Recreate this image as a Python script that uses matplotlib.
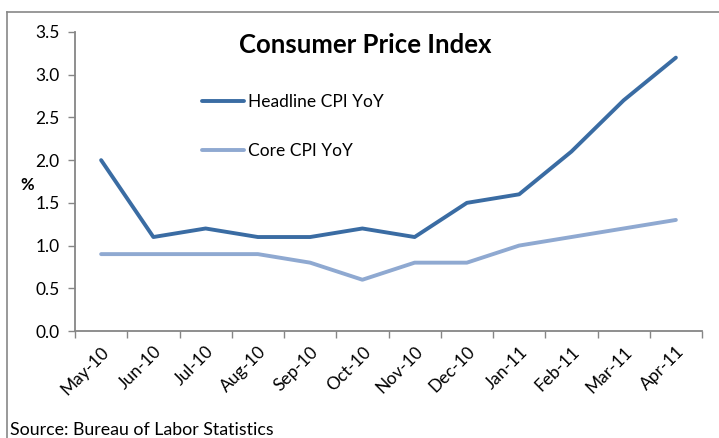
import matplotlib
matplotlib.use("Agg")
import matplotlib.pyplot as plt
from matplotlib.lines import Line2D
import numpy as np

months = ["May-10", "Jun-10", "Jul-10", "Aug-10", "Sep-10", "Oct-10",
          "Nov-10", "Dec-10", "Jan-11", "Feb-11", "Mar-11", "Apr-11"]
headline = [2.0, 1.1, 1.2, 1.1, 1.1, 1.2, 1.1, 1.5, 1.6, 2.1, 2.7, 3.2]
core = [0.9, 0.9, 0.9, 0.9, 0.8, 0.6, 0.8, 0.8, 1.0, 1.1, 1.2, 1.3]
yticks = [0.0, 0.5, 1.0, 1.5, 2.0, 2.5, 3.0, 3.5]

plt.rcParams['font.family'] = ['Lato', 'DejaVu Sans']

W, H = 719, 438
fig = plt.figure(figsize=(W / 100, H / 100), dpi=100)
ax = fig.add_axes([75 / W, (H - 331) / H, (702 - 75) / W, (331 - 32) / H])

x = np.arange(len(months))
ax.plot(x, headline, color="#3A6CA3", lw=2.8, solid_capstyle="round",
        solid_joinstyle="round", label="Headline CPI YoY")
ax.plot(x, core, color="#8FA9D1", lw=2.8, solid_capstyle="round",
        solid_joinstyle="round", label="Core CPI YoY")

ax.set_xlim(-0.5, len(months) - 0.5)
ax.set_ylim(0, 3.5)
ax.set_yticks(yticks)
ax.set_yticklabels([f"{v:.1f}" for v in yticks], fontsize=12.5)
ax.set_xticks(x)
ax.set_xticklabels(months, rotation=45, ha="right", rotation_mode="anchor", fontsize=12.5)
ax.set_xticks(np.arange(-0.5, len(months)), minor=True)
ax.tick_params(axis="x", which="major", length=0, pad=9)
ax.tick_params(axis="x", which="minor", length=5, color="#868686", width=1)
ax.tick_params(axis="y", length=5, color="#868686", width=1, pad=6)

for s in ["top", "right"]:
    ax.spines[s].set_visible(False)
for s in ["left", "bottom"]:
    ax.spines[s].set_color("#868686")
    ax.spines[s].set_linewidth(1.3)

fig.text(27 / W, 1 - 185 / H, "%", fontsize=12, fontweight="bold",
         ha="center", va="center")

fig.text(365 / W, 1 - 45 / H, "Consumer Price Index", fontsize=18.5, fontweight="bold",
         ha="center", va="center")

ax.legend(loc="upper left", bbox_to_anchor=((202 - 75) / (702 - 75), 1 - (94 - 32) / (331 - 32)),
          frameon=False, fontsize=12.5, handlelength=2.4, handletextpad=0.25,
          labelspacing=1.9, borderpad=0, borderaxespad=0)

fig.text(10 / W, 1 - 430 / H, "Source: Bureau of Labor Statistics", fontsize=12.8,
         ha="left", va="center")

fig.add_artist(Line2D([7 / W, 7 / W], [0, 1 - 12 / H], transform=fig.transFigure,
                      color="#888888", lw=1.2))
fig.add_artist(Line2D([7 / W, 1], [1 - 12 / H, 1 - 12 / H], transform=fig.transFigure,
                      color="#888888", lw=1.2))

fig.savefig("out.png", dpi=100)
